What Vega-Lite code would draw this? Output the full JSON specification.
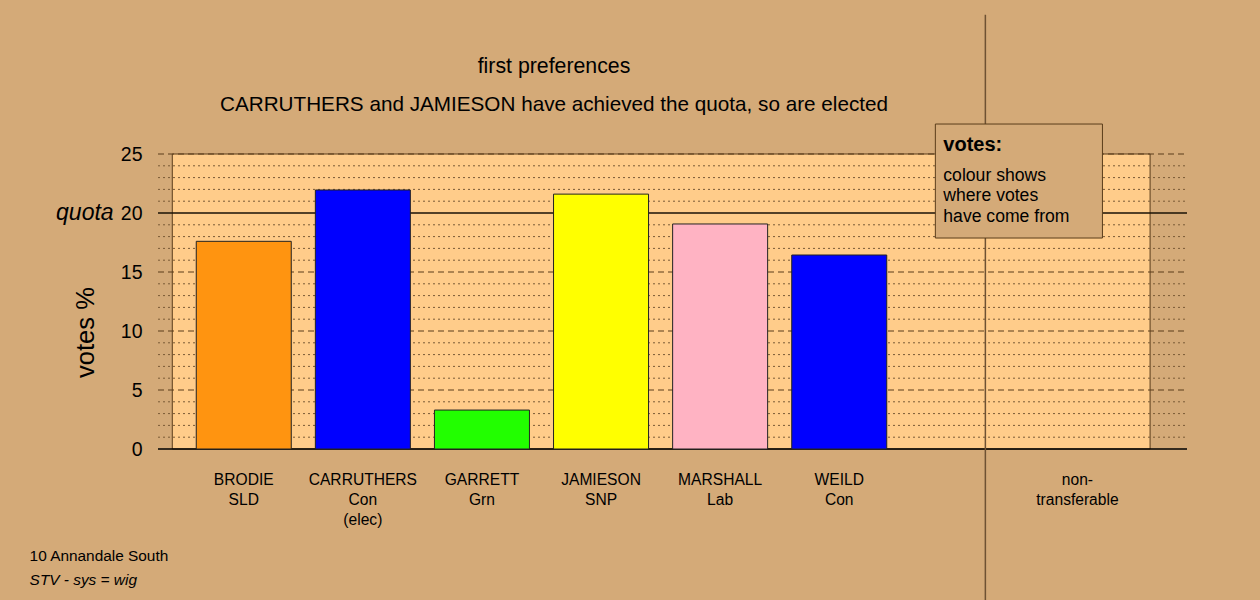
{
  "$schema": "https://vega.github.io/schema/vega-lite/v6.json",
  "autosize": "none",
  "width": 1029,
  "height": 295,
  "padding": {"left": 158, "top": 154, "right": 73, "bottom": 151},
  "background": "#d4aa78",
  "config": {"view": {"stroke": null}, "font": "Liberation Sans"},
  "data": {"values": [{"one": 1}]},
  "datasets": {
    "bars": [
      {"candidate": "BRODIE", "label": "BRODIE\nSLD", "pos": 1, "votes": 17.6},
      {"candidate": "CARRUTHERS", "label": "CARRUTHERS\nCon\n(elec)", "pos": 2, "votes": 21.95},
      {"candidate": "GARRETT", "label": "GARRETT\nGrn", "pos": 3, "votes": 3.3},
      {"candidate": "JAMIESON", "label": "JAMIESON\nSNP", "pos": 4, "votes": 21.6},
      {"candidate": "MARSHALL", "label": "MARSHALL\nLab", "pos": 5, "votes": 19.07},
      {"candidate": "WEILD", "label": "WEILD\nCon", "pos": 6, "votes": 16.44},
      {"candidate": "non-transferable", "label": "non-\ntransferable", "pos": 8, "votes": 0}
    ],
    "minor": [
      {"v": 1}, {"v": 2}, {"v": 3}, {"v": 4}, {"v": 6}, {"v": 7}, {"v": 8}, {"v": 9},
      {"v": 11}, {"v": 12}, {"v": 13}, {"v": 14}, {"v": 16}, {"v": 17}, {"v": 18}, {"v": 19},
      {"v": 21}, {"v": 22}, {"v": 23}, {"v": 24}
    ],
    "major": [{"v": 5}, {"v": 10}, {"v": 15}, {"v": 25}]
  },
  "layer": [
    {
      "mark": {"type": "rect", "fill": "#ffcc8a", "stroke": "#5a3d1a", "strokeWidth": 1},
      "encoding": {
        "x": {"datum": 0.4, "type": "quantitative", "scale": {"domain": [0.28, 8.92], "nice": false, "zero": false, "padding": 0}, "axis": null},
        "x2": {"datum": 8.61},
        "y": {
          "datum": 0, "type": "quantitative", "scale": {"domain": [0, 25], "nice": false},
          "axis": {
            "values": [0, 5, 10, 15, 20, 25], "domain": false, "ticks": false, "grid": false,
            "labelFontSize": 19.5, "labelColor": "#000000", "labelPadding": 16, "title": null
          }
        },
        "y2": {"datum": 25}
      }
    },
    {
      "data": {"name": "minor"},
      "mark": {"type": "rule", "stroke": "#7a5a36", "strokeWidth": 1, "strokeDash": [2, 3]},
      "encoding": {
        "x": {"datum": 0.28, "type": "quantitative"},
        "x2": {"datum": 8.92},
        "y": {"field": "v", "type": "quantitative"}
      }
    },
    {
      "data": {"name": "major"},
      "mark": {"type": "rule", "stroke": "#5a3d1a", "strokeWidth": 1, "strokeDash": [6, 4]},
      "encoding": {
        "x": {"datum": 0.28, "type": "quantitative"},
        "x2": {"datum": 8.92},
        "y": {"field": "v", "type": "quantitative"}
      }
    },
    {
      "mark": {"type": "rule", "stroke": "#1a1206", "strokeWidth": 1.5},
      "encoding": {
        "x": {"datum": 0.28, "type": "quantitative"},
        "x2": {"datum": 8.92},
        "y": {"datum": 20, "type": "quantitative"}
      }
    },
    {
      "mark": {"type": "rule", "stroke": "#000000", "strokeWidth": 1.5},
      "encoding": {
        "x": {"datum": 0.28, "type": "quantitative"},
        "x2": {"datum": 8.92},
        "y": {"datum": 0, "type": "quantitative"}
      }
    },
    {
      "data": {"name": "bars"},
      "transform": [{"filter": "datum.votes > 0"}],
      "mark": {"type": "bar", "orient": "vertical", "width": 95, "stroke": "#222222", "strokeWidth": 1},
      "encoding": {
        "x": {"field": "pos", "type": "quantitative"},
        "y": {"field": "votes", "type": "quantitative"},
        "color": {
          "field": "candidate", "type": "nominal", "legend": null,
          "scale": {
            "domain": ["BRODIE", "CARRUTHERS", "GARRETT", "JAMIESON", "MARSHALL", "WEILD"],
            "range": ["#ff9410", "#0000ff", "#22ff00", "#ffff00", "#ffb3c3", "#0000ff"]
          }
        }
      }
    },
    {
      "mark": {"type": "rule", "stroke": "#6e5233", "strokeWidth": 1.5},
      "encoding": {
        "x": {"datum": 7.227, "type": "quantitative"},
        "y": {"datum": 36.8, "type": "quantitative"},
        "y2": {"datum": -12.8}
      }
    },
    {
      "mark": {"type": "rect", "fill": "#d4aa78", "stroke": "#5a3d1a", "strokeWidth": 1},
      "encoding": {
        "x": {"datum": 6.807, "type": "quantitative"},
        "x2": {"datum": 8.21},
        "y": {"datum": 17.88, "type": "quantitative"},
        "y2": {"datum": 27.54}
      }
    },
    {
      "mark": {"type": "text", "text": "votes:", "fontSize": 20, "fontWeight": "bold", "align": "left", "baseline": "middle", "color": "#000000"},
      "encoding": {
        "x": {"datum": 6.874, "type": "quantitative"},
        "y": {"datum": 25.76, "type": "quantitative"}
      }
    },
    {
      "mark": {"type": "text", "text": ["colour shows", "where votes", "have come from"], "lineHeight": 20.5, "fontSize": 17.6, "align": "left", "baseline": "middle", "color": "#000000"},
      "encoding": {
        "x": {"datum": 6.874, "type": "quantitative"},
        "y": {"datum": 23.15, "type": "quantitative"}
      }
    },
    {
      "data": {"name": "bars"},
      "mark": {"type": "text", "fontSize": 15.6, "lineBreak": "\n", "lineHeight": 20, "align": "center", "baseline": "top", "color": "#000000"},
      "encoding": {
        "x": {"field": "pos", "type": "quantitative"},
        "y": {"datum": -2.03, "type": "quantitative"},
        "text": {"field": "label"}
      }
    },
    {
      "mark": {"type": "text", "text": "first preferences", "fontSize": 21.3, "align": "center", "baseline": "middle", "color": "#000000"},
      "encoding": {
        "x": {"datum": 3.605, "type": "quantitative"},
        "y": {"datum": 32.37, "type": "quantitative"}
      }
    },
    {
      "mark": {"type": "text", "text": "CARRUTHERS and JAMIESON have achieved the quota, so are elected", "fontSize": 20.7, "align": "center", "baseline": "middle", "color": "#000000"},
      "encoding": {
        "x": {"datum": 3.605, "type": "quantitative"},
        "y": {"datum": 29.15, "type": "quantitative"}
      }
    },
    {
      "mark": {"type": "text", "text": "quota", "fontSize": 23, "fontStyle": "italic", "align": "right", "baseline": "middle", "color": "#000000"},
      "encoding": {
        "x": {"datum": -0.0925, "type": "quantitative"},
        "y": {"datum": 20, "type": "quantitative"}
      }
    },
    {
      "mark": {"type": "text", "text": "votes %", "fontSize": 25.5, "angle": 270, "align": "center", "baseline": "middle", "color": "#000000"},
      "encoding": {
        "x": {"datum": -0.3235, "type": "quantitative"},
        "y": {"datum": 9.87, "type": "quantitative"}
      }
    },
    {
      "mark": {"type": "text", "text": "10 Annandale South", "fontSize": 15.4, "align": "left", "baseline": "middle", "color": "#000000"},
      "encoding": {
        "x": {"datum": -0.798, "type": "quantitative"},
        "y": {"datum": -9.06, "type": "quantitative"}
      }
    },
    {
      "mark": {"type": "text", "text": "STV - sys = wig", "fontSize": 15.4, "fontStyle": "italic", "align": "left", "baseline": "middle", "color": "#000000"},
      "encoding": {
        "x": {"datum": -0.798, "type": "quantitative"},
        "y": {"datum": -11.1, "type": "quantitative"}
      }
    }
  ]
}
